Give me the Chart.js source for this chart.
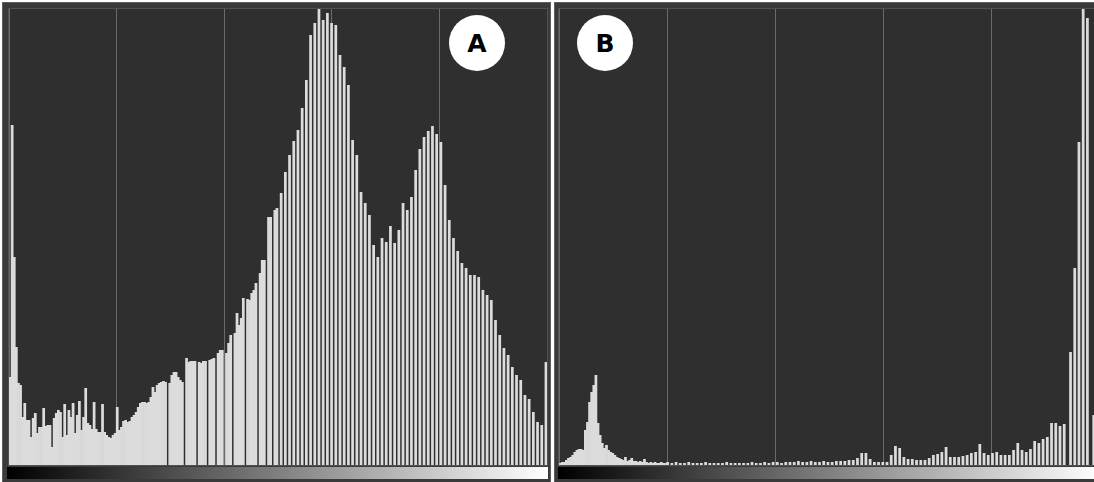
<!DOCTYPE html>
<html>
<head>
<meta charset="utf-8">
<script src="https://cdn.jsdelivr.net/npm/chart.js@4.4.1/dist/chart.umd.min.js"></script>
<style>
  html, body { margin: 0; padding: 0; background: #ffffff; width: 1094px; height: 482px; overflow: hidden; position: relative; }
  .panel { position: absolute; top: 2px; height: 490px; background: #3a3a3a; border: 1px solid #5e5e5e; box-sizing: border-box; }
  .frame { position: absolute; top: 8px; height: 458px; border: 1px solid #515151; box-sizing: border-box; background: #2f2f2f; }
  canvas { position: absolute; top: 9px; }
  .ramp { position: absolute; top: 467px; height: 12px; background: linear-gradient(to right, #000000, #ffffff); }
  .tag { position: absolute; top: 15px; width: 56px; height: 56px; border-radius: 50%; background: #ffffff;
         font: bold 25px "DejaVu Sans", sans-serif; color: #000000; display: flex; align-items: center; justify-content: center; }
</style>
</head>
<body>
  <div class="panel" style="left:2px; width:549px;"></div>
  <div class="panel" style="left:554px; width:560px;"></div>
  <div class="frame" style="left:8px; width:540px;"></div>
  <div class="frame" style="left:558px; width:542px;"></div>
  <canvas id="histA" width="538" height="456" style="left:9px;"></canvas>
  <canvas id="histB" width="540" height="456" style="left:559px;"></canvas>
  <div class="ramp" style="left:7px; width:541px;"></div>
  <div class="ramp" style="left:558px; width:542px;"></div>
  <div class="tag" style="left:449px;">A</div>
  <div class="tag" style="left:577px;">B</div>

<script>
// Grey levels 0..255, one bin each
const levels = Array.from({ length: 256 }, (_, i) => String(i));

// Vertical divisions of the histogram window
const gridDivisions = 5;
const countMax = 456;

// Image A: pixel counts per grey level
const countsA = [
  88, 340, 208, 118, 82, 80, 48, 62, 45, 45, 28, 47, 52, 32, 38, 38,
  57, 39, 40, 40, 18, 47, 52, 55, 53, 28, 61, 30, 55, 48, 62, 32,
  50, 64, 35, 48, 77, 42, 40, 36, 63, 36, 33, 33, 61, 33, 30, 28,
  27, 30, 32, 58, 35, 38, 44, 45, 43, 44, 48, 50, 53, 58, 62, 63,
  63, 62, 63, 68, 78, 73, 80, 82, 83, 84, 83, 0, 82, 90, 93, 93,
  88, 85, 83, 0, 107, 103, 104, 104, 104, 0, 103, 102, 104, 104, 0, 105,
  106, 107, 0, 112, 115, 115, 0, 112, 122, 130, 0, 132, 152, 140, 147, 167,
  0, 166, 165, 172, 175, 182, 0, 192, 205, 205, 0, 248, 248, 0, 255, 257,
  0, 272, 0, 293, 0, 310, 0, 324, 0, 335, 0, 357, 0, 385, 0, 430,
  0, 442, 0, 456, 0, 445, 0, 452, 0, 442, 0, 440, 0, 410, 0, 398,
  0, 380, 0, 325, 0, 310, 0, 273, 0, 262, 0, 250, 0, 220, 0, 208,
  0, 227, 0, 223, 0, 239, 0, 222, 0, 235, 0, 262, 0, 255, 0, 268,
  0, 295, 0, 316, 0, 328, 0, 334, 0, 339, 0, 331, 0, 323, 0, 280,
  0, 245, 0, 227, 0, 214, 0, 202, 0, 197, 0, 190, 0, 190, 0, 188,
  0, 175, 0, 170, 0, 165, 0, 145, 0, 130, 0, 117, 0, 110, 0, 98,
  0, 90, 0, 85, 0, 70, 0, 66, 0, 53, 0, 43, 0, 40, 0, 103
];

// Image B: pixel counts per grey level
const countsB = [
  2, 3, 3, 5, 7, 8, 10, 13, 15, 16, 16, 15, 35, 43, 63, 73,
  80, 90, 42, 30, 22, 17, 20, 15, 13, 12, 10, 8, 7, 6, 5, 8,
  4, 5, 7, 4, 4, 3, 4, 3, 6, 3, 2, 3, 2, 3, 2, 2,
  3, 2, 2, 3, 0, 2, 0, 3, 0, 2, 0, 2, 0, 3, 0, 2,
  0, 2, 0, 2, 0, 3, 0, 2, 0, 2, 0, 2, 0, 2, 0, 3,
  0, 2, 0, 2, 0, 2, 0, 2, 0, 2, 0, 3, 0, 2, 0, 2,
  0, 3, 0, 2, 0, 3, 0, 3, 0, 2, 0, 3, 0, 3, 0, 3,
  0, 4, 0, 3, 0, 3, 0, 4, 0, 3, 0, 3, 0, 4, 0, 3,
  0, 3, 0, 4, 0, 4, 0, 4, 0, 5, 0, 5, 0, 7, 0, 12,
  0, 12, 0, 6, 0, 3, 0, 3, 0, 3, 0, 3, 0, 10, 0, 19,
  0, 17, 0, 8, 0, 6, 0, 6, 0, 5, 0, 5, 0, 5, 0, 7,
  0, 10, 0, 11, 0, 13, 0, 18, 0, 8, 0, 8, 0, 8, 0, 9,
  0, 10, 0, 12, 0, 13, 0, 21, 0, 12, 0, 10, 0, 12, 0, 13,
  0, 10, 0, 10, 0, 10, 0, 15, 0, 22, 0, 15, 0, 13, 0, 16,
  0, 24, 0, 22, 0, 26, 0, 28, 0, 42, 0, 42, 0, 39, 0, 41,
  0, 0, 113, 0, 197, 0, 323, 0, 456, 0, 447, 0, 0, 50, 0, 35
];

function histogram(canvasId, counts) {
  return new Chart(document.getElementById(canvasId), {
    type: 'bar',
    data: {
      labels: levels,
      datasets: [{
        data: counts,
        backgroundColor: '#dcdcdc',
        borderWidth: 0,
        barPercentage: 1.3,
        categoryPercentage: 1
      }]
    },
    options: {
      responsive: false,
      animation: false,
      events: [],
      layout: { padding: 0 },
      plugins: { legend: { display: false }, tooltip: { enabled: false } },
      scales: {
        x: { display: false },
        x2: {
          axis: 'x',
          type: 'linear',
          position: 'bottom',
          offset: false,
          min: 0,
          max: gridDivisions,
          ticks: { display: false, stepSize: 1 },
          grid: { color: '#6a6a6a', lineWidth: 1, drawTicks: false, offset: false },
          border: { display: false }
        },
        y: { display: false, min: 0, max: countMax }
      }
    }
  });
}

histogram('histA', countsA);
histogram('histB', countsB);
</script>
</body>
</html>
